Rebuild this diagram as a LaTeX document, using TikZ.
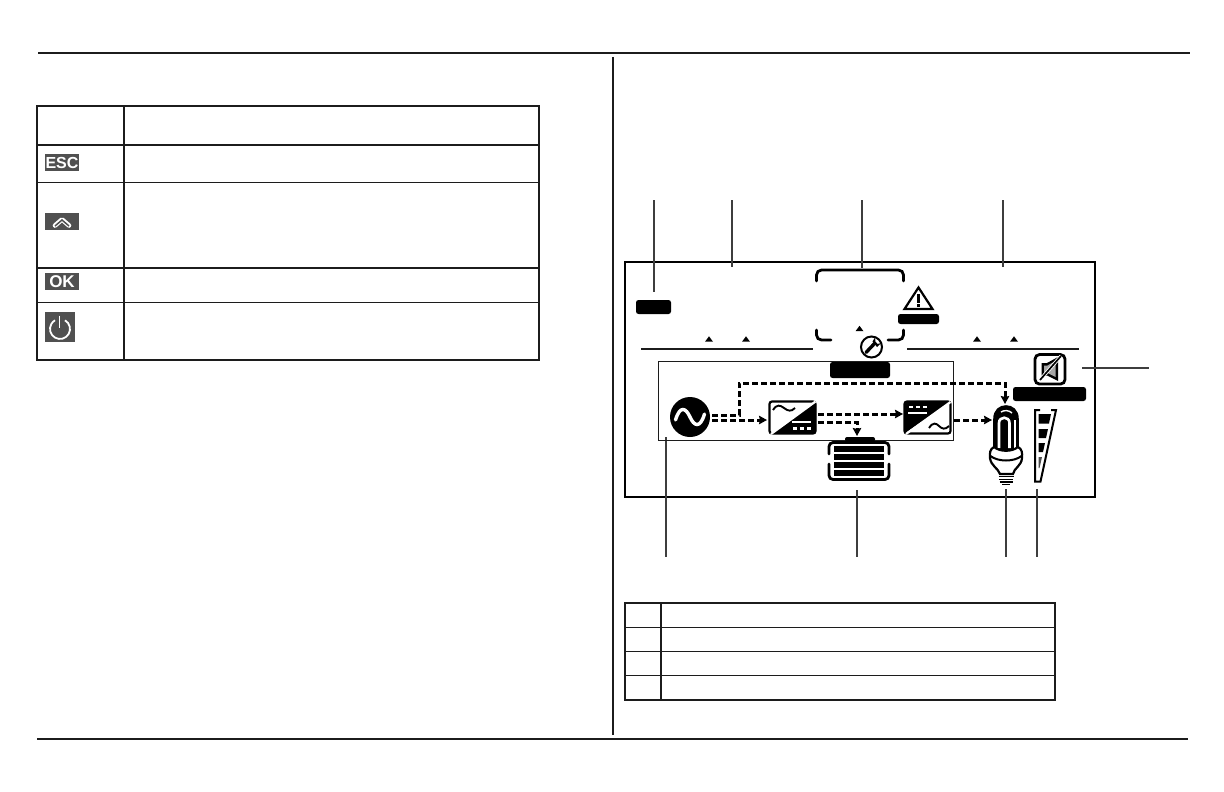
\documentclass[tikz,border=0pt]{standalone}
\usepackage{fontspec}
\setmainfont{Liberation Sans}
\usetikzlibrary{arrows.meta}
\definecolor{ink}{HTML}{1C1C1C}
\definecolor{keygrey}{HTML}{505050}
\tikzset{
  rule/.style={draw=ink,line width=1.7pt},
  thickgrid/.style={draw=ink,line width=2pt},
  thingrid/.style={draw=ink,line width=1pt},
  leader/.style={draw=ink!85,line width=1.9pt},
  pill/.style={fill=black,rounded corners=2.5pt,inner sep=0pt,minimum width=#1},
  pill/.default=40pt,
  keycap/.style={fill=keygrey,inner sep=0pt,text=white,font=\bfseries},
  tip/.style={fill=black},
  flow/.style={draw=black,line width=3pt,dash pattern=on 6pt off 3pt},
  flowarrow/.style={flow,-{Stealth[length=8pt,width=8.5pt,inset=1pt]}},
  outline/.style={draw=black,line width=2.8pt,line cap=round},
}
\begin{document}
\begin{tikzpicture}[x=1pt,y=-1pt]
\useasboundingbox (0,0) rectangle (1224,792);
\fill[white] (0,0) rectangle (1224,792);

% page rules
\draw[rule] (38,53) -- (1190,53);
\draw[rule] (37,739) -- (1188,739);
\draw[rule] (613,57) -- (613,735);

% key table
\draw[thickgrid] (37,105.5) rectangle (539,360);
\draw[thickgrid] (124,105) -- (124,360);
\draw[thickgrid] (37,145) -- (539,145);
\draw[thingrid] (37,182) -- (539,182);
\draw[thickgrid] (37,267.5) -- (539,267.5);
\draw[thingrid] (37,302) -- (539,302);

\node[keycap,minimum width=34pt,minimum height=17pt,font=\bfseries\fontsize{16}{16}\selectfont] (keyesc) at (62,162.5) {ESC};
\node[keycap,minimum width=34pt,minimum height=17pt] (keyup) at (62,221) {};
\draw[white,line width=4.6pt,line join=round,line cap=round] (55,225.5) -- (62,219.5) -- (69,225.5);
\draw[keygrey,line width=1.5pt,line join=miter] (55,226) -- (62,220) -- (69,226);
\node[keycap,minimum width=34pt,minimum height=17pt,font=\bfseries\fontsize{17}{17}\selectfont] (keyok) at (62,281.5) {OK};
\node[keycap,minimum width=30pt,minimum height=30pt] (keypower) at (60,327) {};
\draw[white,line width=1.8pt] (65,320.3) arc[start angle=60,end angle=-240,radius=10pt];
\draw[white,line width=1.8pt] (59.5,315.5) -- (59.5,328);

% display frame
\draw[draw=black,line width=2.1pt] (625,262) rectangle (1095,497);

% leaders
\coordinate (la1) at (654,200); \coordinate (lb1) at (654,292);
\coordinate (la2) at (732,200); \coordinate (lb2) at (732,267);
\coordinate (la3) at (862,200); \coordinate (lb3) at (862,268);
\coordinate (la4) at (1003,200); \coordinate (lb4) at (1003,267);
\coordinate (la5) at (1082,368); \coordinate (lb5) at (1149,368);
\coordinate (la6) at (666,437); \coordinate (lb6) at (666,557);
\coordinate (la7) at (857,490); \coordinate (lb7) at (857,557);
\coordinate (la8) at (1006,489); \coordinate (lb8) at (1006,557);
\coordinate (la9) at (1037,489); \coordinate (lb9) at (1037,557);
\foreach \i in {1,...,9} {\draw[leader] (la\i) -- (lb\i);}

% top of display
\node[pill=35pt,minimum height=14pt] (pilla) at (653.5,307) {};
\foreach \x/\y in {709/339,746/339,977/339,1014/339,859.5/328.5}
  \fill[tip] (\x-4,\y+2.7) -- (\x,\y-2.7) -- (\x+4,\y+2.7) -- cycle;
\draw[draw=ink,line width=2pt] (641,349) -- (813,349);
\draw[draw=ink,line width=2pt] (907,349) -- (1079,349);

% bracket
\draw[outline,rounded corners=5pt] (816.5,281) -- (816.5,270) -- (903.5,270) -- (903.5,281);
\draw[outline,rounded corners=5pt] (816.5,330) -- (816.5,340) -- (831,340);
\draw[outline,rounded corners=5pt] (903.5,330) -- (903.5,340) -- (888,340);

% warning
\node[inner sep=0pt,minimum width=30pt,minimum height=25pt] (warn) at (918.5,298) {};
\draw[draw=black,line width=2.2pt,line join=miter,fill=white] (918.5,287.5) -- (932.5,309) -- (904.5,309) -- cycle;
\fill[black] (917,294) rectangle (920,303);
\fill[black] (917,304) rectangle (920,306.8);
\node[pill=41pt,minimum height=10pt] (pillb) at (918.5,319) {};

% wrench
\node[circle,draw=black,line width=2pt,fill=white,minimum size=21pt,inner sep=0pt] (wrench) at (871.5,347) {};
\draw[black,line width=3.4pt,line cap=round] (866,352.5) -- (875,343);
\fill[black] (872.5,341.5) -- (875,337.5) -- (875.5,342) -- (877.5,344) -- (881,343) -- (877,347) -- cycle;

\node[pill=60pt,minimum height=16pt] (pillc) at (860,370) {};

% flow box
\draw[draw=ink,line width=1pt] (658,361.5) rectangle (953,440);

% mute
\node[draw=black,line width=2.8pt,rounded corners=4.5pt,minimum width=30pt,minimum height=29.5pt,inner sep=0pt,fill=white] (mute) at (1050,369.3) {};
\fill[black] (1041.5,363) -- (1047,363) -- (1058,357) -- (1058,381) -- (1047,375.5) -- (1041.5,375.5) -- cycle;
\fill[black!35] (1044,365.5) -- (1047.5,365.5) -- (1055.5,361) -- (1055.5,377) -- (1047.5,373) -- (1044,373) -- cycle;
\draw[white,line width=3.4pt] (1040,380) -- (1061,356);
\draw[black,line width=1.7pt] (1040,380) -- (1061,356);
\node[pill=73pt,minimum height=14pt] (pilld) at (1049.5,394) {};

% AC source
\node[circle,fill=black,minimum size=40pt,inner sep=0pt] (ac) at (690,417) {};
\draw[white,line width=3.4pt,line cap=round] (675.5,420) .. controls (680,405) and (686,408) .. (690,417) .. controls (694,426) and (700,429) .. (704.5,414);

% converters
\node[draw=black,line width=2.2pt,rounded corners=2.5pt,minimum width=46pt,minimum height=32pt,inner sep=0pt,fill=white] (conva) at (792.5,417.5) {};
\fill[black,rounded corners=2pt] (816,401.5) -- (816,433.5) -- (772,433.5) -- cycle;
\draw[white,line width=2.2pt] (771,434) -- (815.5,401.5);
\draw[black,line width=1.9pt] (773,410) .. controls (777,404) and (780,405) .. (784,408) .. controls (788,411) and (791,412) .. (795,408);
\fill[white] (792,421) rectangle (811,423);
\foreach \x in {793,800,807} \fill[white] (\x,427) rectangle (\x+4,429.5);

\node[draw=black,line width=2.2pt,rounded corners=2.5pt,minimum width=46pt,minimum height=32pt,inner sep=0pt,fill=white] (convb) at (927.5,417.5) {};
\fill[black,rounded corners=2pt] (904.5,401.5) -- (951,401.5) -- (904.5,433.5) -- cycle;
\draw[white,line width=2.2pt] (906,434) -- (950.5,402);
\foreach \x in {909,916,923} \fill[white] (\x,405.5) rectangle (\x+4,408);
\fill[white] (908,412) rectangle (927,414);
\draw[black,line width=1.9pt] (929,428) .. controls (933,422) and (936,423) .. (939,426) .. controls (942,429) and (945,430) .. (949,426);

% battery
\node[inner sep=0pt,minimum width=62pt,minimum height=39pt] (battery) at (858,461) {};
\fill[black,rounded corners=2pt] (845,441.5) -- (845,437) -- (875,437) -- (875,441.5) -- cycle;
\draw[outline,rounded corners=4pt] (829,454) -- (829,442.5) -- (889,442.5) -- (889,454);
\draw[outline,rounded corners=4pt] (829,464) -- (829,479.5) -- (889,479.5) -- (889,464);
\foreach \y in {446.2,454.2,462.2,470.2} \fill[black] (834,\y) rectangle (884,\y+6.1);

% bulb
\node[inner sep=0pt,minimum width=34pt,minimum height=78pt] (bulb) at (1006,444) {};
\draw[draw=black,line width=1.6pt,fill=black] (994,450) -- (994,419) .. controls (994,410) and (1000,406) .. (1006,406) .. controls (1012,406) and (1018,410) .. (1018,419) -- (1018,450) -- cycle;
\draw[white,line width=2.6pt] (999,448) -- (999,423) .. controls (999,416) and (1009.5,416) .. (1009.5,423) -- (1009.5,448);
\draw[white,line width=2pt] (1015,420) -- (1015,448);
\draw[white,line width=1.4pt] (1001,412) .. controls (1004,410) and (1009,410) .. (1012,413);
\draw[draw=black,line width=2.2pt,fill=white] (994,447) .. controls (990,449) and (989.5,453) .. (990,458) .. controls (991,466) and (998,468) .. (1000,474) -- (1013,474) .. controls (1014,468) and (1021.5,466) .. (1022,458) .. controls (1022.5,453) and (1022,449) .. (1018,447) .. controls (1012,452) and (1000,452) .. (994,447) -- cycle;
\draw[black,line width=2pt] (990.5,456) .. controls (998,462) and (1014,462) .. (1021.5,456);
\foreach \y/\w in {476.5/7.5,479.5/7,482/6.5,484.5/4}
  \draw[black,line width=1.5pt] (1006-\w,\y) -- (1006+\w,\y);

% load bars
\node[inner sep=0pt,minimum width=22pt,minimum height=74pt] (loadbar) at (1045,445) {};
\draw[draw=black,line width=2pt] (1040,410) -- (1035,410) -- (1035,481.5) -- (1040.5,481.5) -- (1056,410) -- (1051,410);
\fill[black] (1038.5,414) -- (1051,414) -- (1049,423.5) -- (1038.5,423.5) -- cycle;
\fill[black] (1038.5,429) -- (1048,429) -- (1046,438) -- (1038.5,438) -- cycle;
\fill[black] (1038.5,443) -- (1045,443) -- (1043,452) -- (1038.5,452) -- cycle;
\fill[black!70] (1038.5,457) -- (1042,457) -- (1039.5,468) -- (1038.5,468) -- cycle;

% flow connectors
\coordinate (f1a) at (712,415); \coordinate (f1b) at (739,415); \coordinate (f1c) at (739,383); \coordinate (f1d) at (1005,383);
\coordinate (f2a) at (712,420); \coordinate (f2b) at (767,420);
\coordinate (f3a) at (818,414); \coordinate (f3b) at (903,414);
\coordinate (f4a) at (818,422); \coordinate (f4b) at (857,422); \coordinate (f4c) at (857,436);
\coordinate (f5a) at (954,420); \coordinate (f5b) at (992,420);
\coordinate (f1e) at (1005,404);
\draw[flowarrow] (f1a) -- (f1b) -- (f1c) -- (f1d) -- (f1e);
\draw[flowarrow] (f2a) -- (f2b);
\draw[flowarrow] (f3a) -- (f3b);
\draw[flowarrow] (f4a) -- (f4b) -- (f4c);
\draw[flowarrow] (f5a) -- (f5b);

% bottom table
\draw[thickgrid] (625,603) rectangle (1055,700);
\draw[thickgrid] (661,603) -- (661,699);
\draw[thingrid] (625,627) -- (1055,627);
\draw[thingrid] (625,651) -- (1055,651);
\draw[thingrid] (625,675) -- (1055,675);
\end{tikzpicture}
\end{document}
